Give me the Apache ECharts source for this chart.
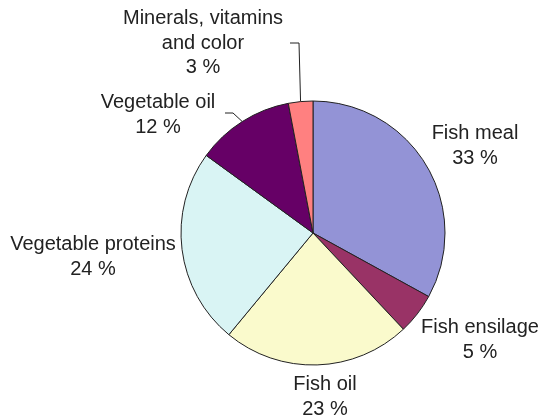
<!DOCTYPE html>
<html>
<head>
<meta charset="utf-8">
<script src="https://cdn.jsdelivr.net/npm/echarts@6/dist/echarts.min.js"></script>
<style>html,body{margin:0;padding:0;background:#fff;}#c{width:545px;height:415px;}</style>
</head>
<body>
<div id="c"></div>
<script>
var categories = ['Fish meal', 'Fish ensilage', 'Fish oil', 'Vegetable proteins', 'Vegetable oil', 'Minerals, vitamins\nand color'];
var values = [33, 5, 23, 24, 12, 3];
var colors = ['#9393d6', '#993366', '#fafacc', '#d9f4f4', '#660066', '#ff8080'];

// label centres (x, y) and leader-line bends
var labelPos = [[475, 146], [480, 340], [325, 397], [93, 257], [158, 115], [203, 43]];
var leaderBends = [null, null, null, null, [[233, 113], [225, 113]], [[299, 43], [290, 43]]];

var chart = echarts.init(document.getElementById('c'), null, {renderer: 'canvas'});
var data = categories.map(function (n, i) {
  return {
    name: n, value: values[i],
    itemStyle: {color: colors[i]},
    labelLine: {show: !!leaderBends[i]}
  };
});
chart.setOption({
  animation: false,
  backgroundColor: '#fff',
  series: [{
    type: 'pie',
    center: [313, 233],
    radius: 132,
    startAngle: 90,
    clockwise: true,
    data: data,
    itemStyle: {borderColor: '#222', borderWidth: 1},
    label: {
      show: true,
      position: 'outside',
      overflow: 'none',
      alignTo: 'none',
      bleedMargin: 0,
      fontFamily: 'Liberation Sans, Arial, sans-serif',
      fontSize: 20,
      lineHeight: 24.5,
      color: '#222',
      align: 'center',
      formatter: function (p) { return p.name + '\n' + p.value + ' %'; }
    },
    labelLine: {lineStyle: {color: '#222', width: 1}, smooth: false},
    labelLayout: function (p) {
      var i = p.dataIndex;
      var r = {x: labelPos[i][0], y: labelPos[i][1], align: 'center', verticalAlign: 'middle'};
      if (leaderBends[i] && p.labelLinePoints) {
        r.labelLinePoints = [p.labelLinePoints[0]].concat(leaderBends[i]);
      }
      return r;
    }
  }]
});
</script>
</body>
</html>
